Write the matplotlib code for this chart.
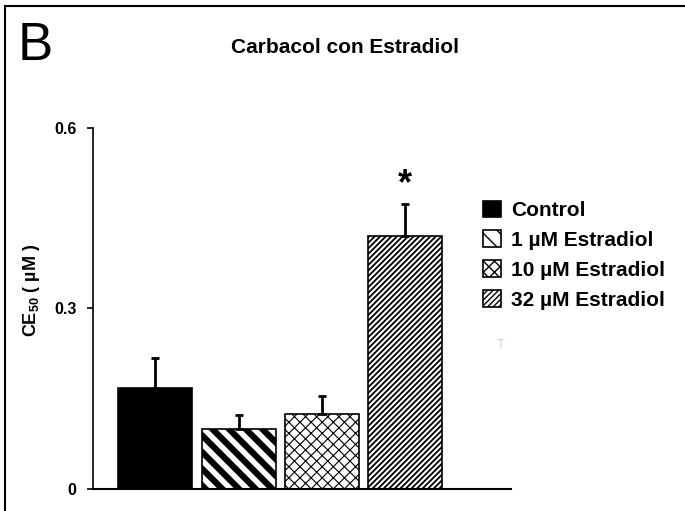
import matplotlib
matplotlib.use('Agg')
import matplotlib.pyplot as plt
from matplotlib.lines import Line2D
from matplotlib.patches import Patch

plt.rcParams['font.family'] = ['Liberation Sans', 'DejaVu Sans']
plt.rcParams['mathtext.fontset'] = 'custom'
plt.rcParams['mathtext.rm'] = 'Liberation Sans:bold'
plt.rcParams['mathtext.bf'] = 'Liberation Sans:bold'

# data
groups = ['Control', '1 µM Estradiol', '10 µM Estradiol', '32 µM Estradiol']
ce50 = [0.168, 0.100, 0.125, 0.420]
sem = [0.049, 0.023, 0.030, 0.053]
yticks = [0, 0.3, 0.6]
ytick_labels = ['0', '0.3', '0.6']

colors = ['black', 'white', 'white', 'white']
hatches = [None, '\\\\', 'xxx', '//////']
hatch_lw = [1.0, 4.5, 0.8, 1.3]

fig = plt.figure(figsize=(6.85, 5.11), dpi=100)
ax = fig.add_axes([0.136, 0.043, 0.61, 0.707])

x = list(range(len(groups)))
bars = ax.bar(x, ce50, width=0.89, color=colors, edgecolor='black', linewidth=1.2, zorder=2)
for b, h, lw in zip(bars, hatches, hatch_lw):
    if h:
        b.set_hatch(h)
        if hasattr(b, 'set_hatch_linewidth'):
            b.set_hatch_linewidth(lw)

ax.errorbar(x, ce50, yerr=[[0] * len(sem), sem], fmt='none', ecolor='black',
            elinewidth=2, capsize=3, capthick=2, zorder=3)

ax.text(x[3], ce50[3] + sem[3] + 0.032, '*', ha='center', va='center',
        fontsize=26, fontweight='bold')
# faint leftover mark next to the bars
ax.text(4.15, 0.24, 'T', color='#d0d0d0', fontsize=9, ha='center', va='center')

ax.set_xlim(-0.75, 4.28)
ax.set_ylim(0, 0.6)
ax.set_yticks(yticks)
ax.set_yticklabels(ytick_labels, fontsize=11.5, fontweight='bold')
ax.set_xticks([])
ax.tick_params(axis='y', direction='out', length=4, width=1.2, pad=8)
for s in ['top', 'right']:
    ax.spines[s].set_visible(False)
ax.spines['left'].set_linewidth(1.2)
ax.spines['bottom'].set_linewidth(1.5)
ax.set_ylabel('CE$_{50}$ ( µM )', fontsize=13, fontweight='bold')
ax.yaxis.set_label_coords(-0.122, 0.55)

handles = []
for c, h, lw in zip(colors, hatches, hatch_lw):
    p = Patch(facecolor=c, edgecolor='black', hatch=h, linewidth=1.2)
    handles.append(p)
leg = fig.legend(handles, groups, loc='upper left', bbox_to_anchor=(0.69, 0.628),
                 frameon=False, borderpad=0, handlelength=0.85, handleheight=0.85,
                 handletextpad=0.5, labelspacing=0.5,
                 prop={'weight': 'bold', 'size': 15})

fig.text(0.503, 0.908, 'Carbacol con Estradiol', ha='center', va='center',
         fontsize=15, fontweight='bold')
fig.text(0.026, 0.91, 'B', ha='left', va='center', fontsize=38)

# outer frame (left and top edges)
fig.add_artist(Line2D([0.008, 0.008], [0, 0.988], color='black', lw=1.5))
fig.add_artist(Line2D([0.008, 1.0], [0.988, 0.988], color='black', lw=1.5))

fig.savefig('out.png', dpi=100)
